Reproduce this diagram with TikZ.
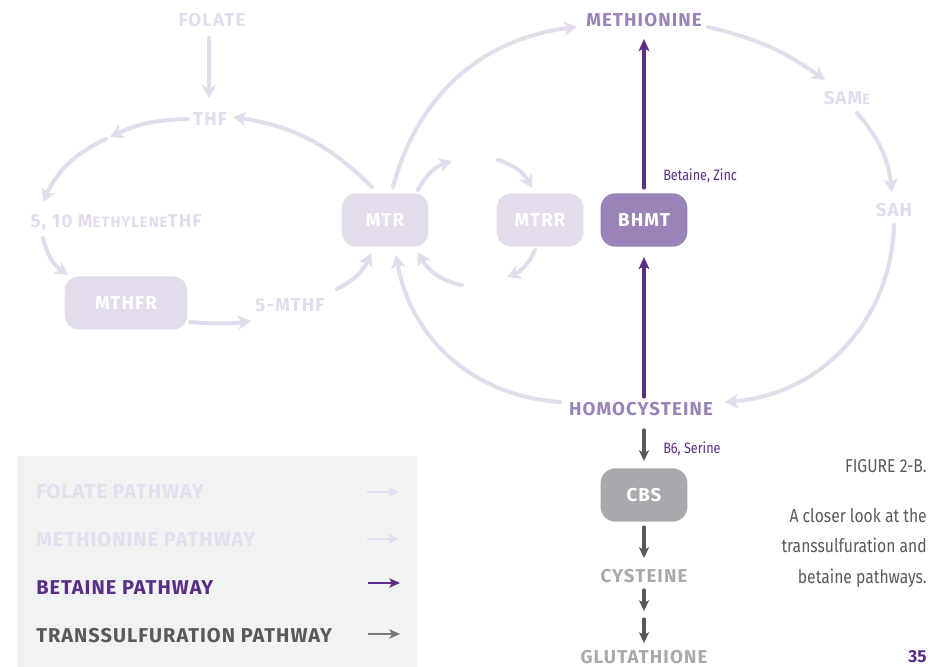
\documentclass[tikz,border=0pt]{standalone}
\usepackage{fontspec}
\setmainfont{Fira Sans}
\newfontfamily\labfont[LetterSpace=6]{Fira Sans}
\newfontfamily\legfont[LetterSpace=5]{Fira Sans}
\newfontfamily\condfont[FakeStretch=0.84]{Fira Sans}
\usetikzlibrary{arrows.meta}
\definecolor{lav}{HTML}{E2DCEC}
\definecolor{lavbox}{HTML}{E2DCEB}
\definecolor{midp}{HTML}{9A83B7}
\definecolor{darkp}{HTML}{5A2D87}
\definecolor{grayb}{HTML}{A7A9AC}
\definecolor{darkg}{HTML}{58595B}
\definecolor{legbg}{HTML}{F1F2F2}
\definecolor{legtxt}{HTML}{E4DDEF}
\newcommand\smc[1]{{\fontsize{11.3}{13}\selectfont #1}}
\tikzset{
 lab/.style={font=\labfont\bfseries\fontsize{14}{16}\selectfont, inner sep=0pt},
 box/.style={rounded corners=11pt, minimum width=65pt, minimum height=40pt, text=white,
   font=\labfont\bfseries\fontsize{14}{16}\selectfont, inner sep=0pt},
 lavA/.style={draw=lav, line width=3pt, line cap=round, -{Stealth[length=10pt,width=11pt,inset=3pt]}},
 purA/.style={draw=darkp, line width=2.3pt, line cap=round, -{Stealth[length=9pt,width=8pt,inset=2pt]}},
 gryA/.style={draw=darkg, line width=2.3pt, line cap=round, -{Stealth[length=8pt,width=7.5pt,inset=2pt]}},
 legA/.style={line width=2pt, -{Stealth[length=8pt,width=7pt,inset=2pt]}},
 leg/.style={font=\legfont\bfseries\fontsize{15}{17}\selectfont, anchor=west, inner sep=0pt},
 note/.style={font=\condfont\fontsize{11.3}{13}\selectfont, text=darkp, anchor=west, inner sep=0pt},
 captxt/.style={font=\condfont\fontsize{14}{23}\selectfont, text=darkg, align=right, inner sep=0pt},
}
\begin{document}
\begin{tikzpicture}[x=0.75pt,y=-0.75pt]
\useasboundingbox (0,0) rectangle (928,667);
% legend background
\fill[legbg] (17,456) rectangle (417,667);

% nodes
\node[lab,text=lav] (folate) at (212,20) {FOLATE};
\node[lab,text=lav] (thf) at (210,119) {THF};
\node[lab,text=lav] (meth) at (116,223) {5, 10 M\smc{ETHYLENE}THF};
\node[box,fill=lavbox,minimum width=92pt] (mthfr) at (126,303) {MTHFR};
\node[lab,text=lav] (mthf) at (290,305) {5-MTHF};
\node[box,fill=lavbox] (mtr) at (385,220) {MTR};
\node[box,fill=lavbox] (mtrr) at (540,220) {MTRR};
\node[box,fill=midp] (bhmt) at (644,220) {BHMT};
\node[lab,text=midp] (met) at (644,20) {METHIONINE};
\node[lab,text=lav] (same) at (847,98) {SAM\smc{E}};
\node[lab,text=lav] (sah) at (894,210) {SAH};
\node[lab,text=midp] (hcy) at (641,409) {HOMOCYSTEINE};
\node[box,fill=grayb] (cbs) at (644,495) {CBS};
\node[lab,text=grayb] (cys) at (644,576) {CYSTEINE};
\node[lab,text=grayb] (glu) at (644,657) {GLUTATHIONE};
\node[note] (bz) at (663,176) {Betaine, Zinc};
\node[note] (bs) at (663,449) {B6, Serine};
\node[captxt,anchor=east] (fig) at (927,466) {FIGURE 2-B.};
\node[captxt,anchor=north east] (capt) at (927,508) {A closer look at the\\transsulfuration and\\betaine pathways.};
\node[font=\bfseries\fontsize{13}{15}\selectfont, text=darkp, anchor=east, inner sep=0pt] (pg) at (927,657) {35};

% free coordinates
\coordinate (c1) at (110,137);
\coordinate (c2) at (106,139);
\coordinate (c3) at (452,161);
\coordinate (c4) at (498,160);
\coordinate (c5) at (507,277);
\coordinate (c6) at (462,285);
\coordinate (g1) at (644,611);
\coordinate (g2) at (644,619);

% folate cycle
\draw[lavA] ([shift={(-3,18)}]folate.center) -- ([shift={(-1,-21)}]thf.center);
\draw[lavA] ([shift={(-22,0)}]thf.center) to[bend right=12] (c1);
\draw[lavA] (c2) to[bend right=20] ([shift={(-73,-21)}]meth.center);
\draw[lavA] ([shift={(-73,15)}]meth.center) to[bend right=21] ([shift={(-58,-28)}]mthfr.center);
\draw[lavA] ([shift={(64,19)}]mthfr.center) to[bend right=6] ([shift={(-39,16)}]mthf.center);
\draw[lavA] ([shift={(47,-16)}]mthf.center) to[bend right=20] ([shift={(-14,33)}]mtr.center);
\draw[lavA] ([shift={(-13,-33)}]mtr.center) to[bend right=18] ([shift={(23,-2)}]thf.center);

% methionine cycle
\draw[lavA] ([shift={(8,-33)}]mtr.center) to[bend left=34] ([shift={(-67,7)}]met.center);
\draw[lavA] ([shift={(33,-30)}]mtr.center) to[bend left=22] (c3);
\draw[lavA] (c4) to[bend left=22] ([shift={(-8,-32)}]mtrr.center);
\draw[lavA] ([shift={(-5,30)}]mtrr.center) to[bend left=22] (c5);
\draw[lavA] (c6) to[bend left=25] ([shift={(33,32)}]mtr.center);
\draw[lavA] ([shift={(-81,-7)}]hcy.center) to[bend left=38] ([shift={(11,35)}]mtr.center);
\draw[lavA] ([shift={(64,7)}]met.center) to[bend left=11] ([shift={(-22,-18)}]same.center);
\draw[lavA] ([shift={(10,15)}]same.center) to[bend left=17] ([shift={(-2,-18)}]sah.center);
\draw[lavA] ([shift={(0,15)}]sah.center) to[bend left=42] ([shift={(84,-7)}]hcy.center);

% betaine pathway
\draw[purA] ([shift={(3,-12)}]hcy.center) -- ([shift={(0,37)}]bhmt.center);
\draw[purA] ([shift={(0,-32)}]bhmt.center) -- ([shift={(0,19)}]met.center);

% transsulfuration
\draw[gryA] ([shift={(3,21)}]hcy.center) -- ([shift={(0,-34)}]cbs.center);
\draw[gryA] ([shift={(0,32)}]cbs.center) -- ([shift={(0,-18)}]cys.center);
\draw[gryA] ([shift={(0,14)}]cys.center) -- (g1);
\draw[gryA] (g2) -- ([shift={(0,-14)}]glu.center);

% legend
\node[leg,text=legtxt] (lf) at (36,492) {FOLATE PATHWAY};
\node[leg,text=legtxt] (lm) at (36,540) {METHIONINE PATHWAY};
\node[leg,text=darkp] (lb) at (36,588) {BETAINE PATHWAY};
\node[leg,text=darkg] (lt) at (36,636) {TRANSSULFURATION PATHWAY};
\coordinate (l1a) at (367,492); \coordinate (l1b) at (399,492);
\coordinate (l2a) at (367,539); \coordinate (l2b) at (399,539);
\coordinate (l3a) at (368,583); \coordinate (l3b) at (400,583);
\coordinate (l4a) at (368,634); \coordinate (l4b) at (400,634);
\draw[legA,draw=legtxt] (l1a) -- (l1b);
\draw[legA,draw=legtxt] (l2a) -- (l2b);
\draw[legA,draw=darkp] (l3a) -- (l3b);
\draw[legA,draw=darkg!80] (l4a) -- (l4b);
\end{tikzpicture}
\end{document}
